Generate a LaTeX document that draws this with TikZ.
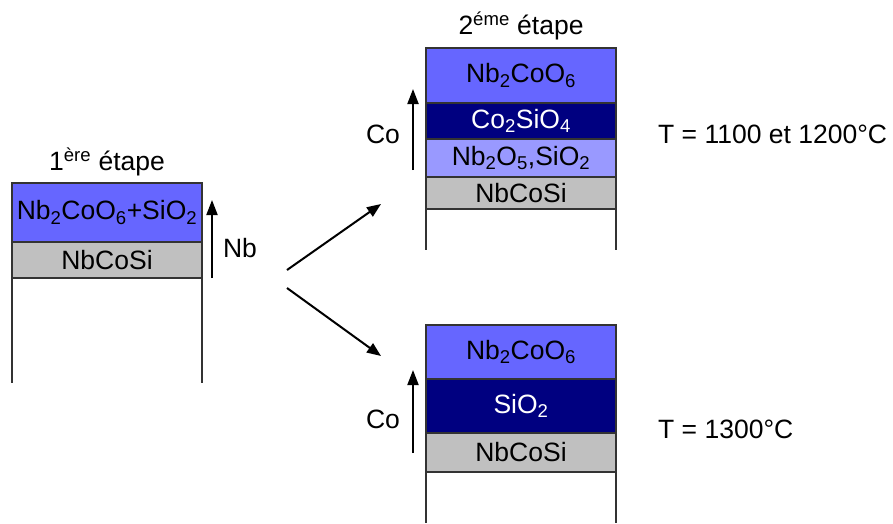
\documentclass[tikz,border=0pt]{standalone}
\usepackage{fontspec}
\setmainfont{Liberation Sans}
\usepackage{xcolor}
\usepackage{tikz}
\usetikzlibrary{positioning, arrows.meta, calc}
\definecolor{oxblue}{HTML}{6666FF}
\definecolor{oxnavy}{HTML}{000080}
\definecolor{oxpale}{HTML}{9999FF}
\definecolor{alloygray}{HTML}{C0C0C0}
\newcommand{\sub}[1]{\textsubscript{#1}}

\begin{document}
\begin{tikzpicture}[
        x=1pt, y=-1pt,
        font=\fontsize{26.5}{31}\selectfont,
        layer/.style={rectangle, draw=black!80, line width=1.2pt, minimum width=190pt, inner sep=0pt, outer sep=0pt, text centered},
        label/.style={inner sep=0pt},
        uparrow/.style={line width=2pt, -{Triangle[width=11pt,length=15pt]}},
        arrow/.style={line width=2pt, -{Triangle[width=11pt,length=14pt]}}
    ]
    \useasboundingbox (0,0) rectangle (893,523);

    % Nodes -- first step
    \node (L1) [layer, fill=oxblue, minimum height=59pt, anchor=north west] at (12,183) {Nb\sub{2}CoO\sub{6}+SiO\sub{2}};
    \node (L2) [layer, fill=alloygray, minimum height=36pt, below=0pt of L1] {NbCoSi};
    \node (Step1) [label, above=7pt of L1] {1\textsuperscript{ère} étape};

    % Nodes -- second step, 1100 and 1200 C
    \node (T1) [layer, fill=oxblue, minimum height=55pt, anchor=north west] at (426,48) {Nb\sub{2}CoO\sub{6}};
    \node (T2) [layer, fill=oxnavy, text=white, minimum height=36pt, below=0pt of T1] {Co\sub{2}SiO\sub{4}};
    \node (T3) [layer, fill=oxpale, minimum height=38pt, below=0pt of T2] {Nb\sub{2}O\sub{5},SiO\sub{2}};
    \node (T4) [layer, fill=alloygray, minimum height=32pt, below=0pt of T3] {NbCoSi};
    \node (Step2) [label, above=8pt of T1] {2\textsuperscript{éme} étape};

    % Nodes -- second step, 1300 C
    \node (B1) [layer, fill=oxblue, minimum height=54pt, anchor=north west] at (426,325) {Nb\sub{2}CoO\sub{6}};
    \node (B2) [layer, fill=oxnavy, text=white, minimum height=54pt, below=0pt of B1] {SiO\sub{2}};
    \node (B3) [layer, fill=alloygray, minimum height=39pt, below=0pt of B2] {NbCoSi};

    % Substrate sides
    \draw [black!80, line width=1.2pt] (L2.south west) -- +(0,105);
    \draw [black!80, line width=1.2pt] (L2.south east) -- +(0,105);
    \draw [black!80, line width=1.2pt] (T4.south west) -- +(0,41);
    \draw [black!80, line width=1.2pt] (T4.south east) -- +(0,41);
    \draw [black!80, line width=1.2pt] (B3.south west) -- +(0,51);
    \draw [black!80, line width=1.2pt] (B3.south east) -- +(0,51);

    % Diffusion arrows
    \coordinate (NbFoot) at ($(L2.south east)+(10,0)$);
    \coordinate (NbTip) at ($(L1.north east)+(10,17)$);
    \draw [uparrow] (NbFoot) -- (NbTip);
    \node (Nb) [label] at (240,248) {Nb};

    \coordinate (CoFootT) at (413,170);
    \coordinate (CoTipT) at (413,89);
    \draw [uparrow] (CoFootT) -- (CoTipT);
    \node (CoT) [label] at (383,134) {Co};

    \coordinate (CoFootB) at (413,453);
    \coordinate (CoTipB) at (413,370);
    \draw [uparrow] (CoFootB) -- (CoTipB);
    \node (CoB) [label] at (383,419) {Co};

    % Branch arrows
    \coordinate (ForkUp) at (287,270);
    \coordinate (ForkDown) at (287,288);
    \coordinate (ToTop) at (381,204);
    \coordinate (ToBottom) at (381,356);
    \draw [arrow] (ForkUp) -- (ToTop);
    \draw [arrow] (ForkDown) -- (ToBottom);

    % Temperatures
    \node (TempTop) [label, anchor=west] at (658,134) {T = 1100 et 1200°C};
    \node (TempBottom) [label, anchor=west] at (658,429) {T = 1300°C};

\end{tikzpicture}
\end{document}
